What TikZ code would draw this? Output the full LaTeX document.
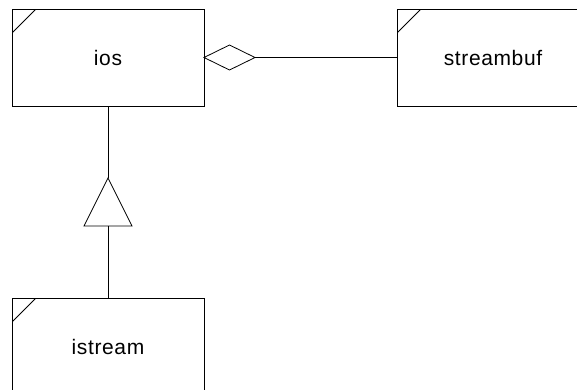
\documentclass[tikz,border=0pt]{standalone}
\usepackage{fontspec}
\setmainfont{Liberation Sans}
\newfontfamily\classfont[LetterSpace=3]{Liberation Sans}
\usetikzlibrary{shapes.geometric}
\begin{document}
\begin{tikzpicture}[x=1pt,y=-1pt,line width=0.8pt,
  classbox/.style={draw,rectangle,minimum width=192pt,minimum height=97pt,
    inner sep=0pt,outer sep=0pt,font=\classfont\fontsize{21}{25}\selectfont,
    path picture={\draw[line width=0.8pt]
      ([yshift=-24pt]path picture bounding box.north west) -- ++(24pt,24pt);}},
  aggdiamond/.style={draw,diamond,minimum width=51pt,minimum height=25pt,
    inner sep=0pt,outer sep=0pt,fill=white}]
\useasboundingbox (0,0) rectangle (577,389);
\clip (0,0) rectangle (577,389);
\node[classbox] (ios) at (108,57.5) {ios};
\node[classbox] (streambuf) at (493,57.5) {streambuf};
\node[classbox] (istream) at (108,346.5) {istream};
% aggregation: ios <>---- streambuf
\node[aggdiamond,anchor=west] (agg) at (ios.east) {};
\draw (agg.east) -- (streambuf.west);
% generalisation: istream --|> ios
\coordinate (apex) at (108,178);
\coordinate (base) at (108,226);
\draw (ios.south) -- (apex);
\draw (apex) -- ++(24,48) -- ++(-48,0) -- cycle;
\draw (base) -- (istream.north);
\end{tikzpicture}
\end{document}
